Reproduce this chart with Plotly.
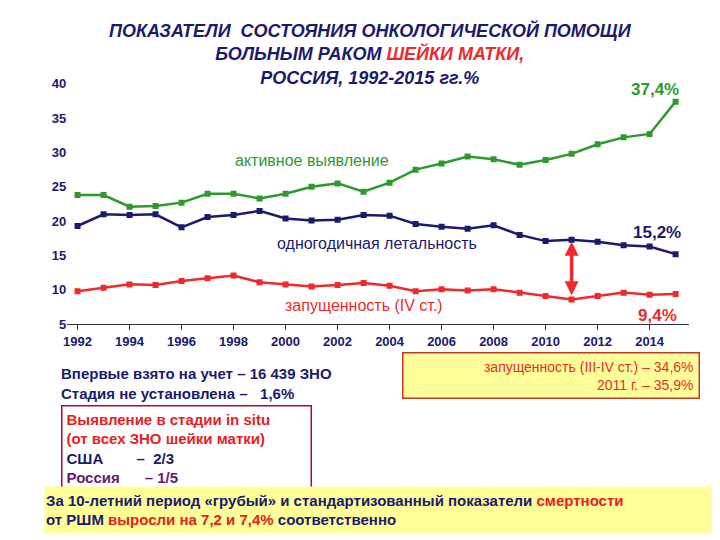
import plotly.graph_objects as go

years = list(range(1992, 2016))
active = [23.8, 23.8, 22.1, 22.2, 22.7, 24.0, 24.0, 23.3, 24.0, 25.0, 25.5, 24.3,
          25.6, 27.5, 28.4, 29.4, 29.0, 28.2, 28.9, 29.8, 31.2, 32.2, 32.7, 37.4]
lethal = [19.3, 21.0, 20.9, 21.0, 19.1, 20.6, 20.9, 21.5, 20.4, 20.1, 20.2, 20.9,
          20.8, 19.6, 19.2, 18.9, 19.4, 18.0, 17.1, 17.3, 17.0, 16.5, 16.3, 15.2]
late = [9.8, 10.3, 10.8, 10.7, 11.3, 11.7, 12.1, 11.1, 10.8, 10.5, 10.7, 11.0,
        10.6, 9.8, 10.1, 9.9, 10.1, 9.6, 9.1, 8.6, 9.1, 9.6, 9.3, 9.4]
tick_years = list(range(1992, 2016, 2))
y_ticks = [5, 10, 15, 20, 25, 30, 35, 40]

NAVY = "#1a1a6e"
GREEN = "#2e9a2e"
RED = "#ee2a2a"
FONT = "Liberation Sans"

fig = go.Figure()
for vals, col in [(active, GREEN), (lethal, NAVY), (late, RED)]:
    fig.add_trace(go.Scatter(x=years, y=vals, mode="lines+markers",
                             line=dict(color=col, width=2.5),
                             marker=dict(symbol="square", size=6, color=col),
                             showlegend=False, hoverinfo="skip"))

fig.update_layout(
    width=720, height=540, margin=dict(l=0, r=0, t=0, b=0),
    paper_bgcolor="white", plot_bgcolor="white",
    font=dict(family=FONT),
    xaxis=dict(domain=[0.077, 0.945], range=[1991.6, 2015.5], tickvals=tick_years,
               showgrid=False, showline=True, linecolor="#333", ticks="outside",
               ticklen=5, tickcolor="#333",
               tickfont=dict(size=13, color=NAVY, weight="bold"), zeroline=False),
    yaxis=dict(domain=[0.411, 0.869], range=[5, 40], tickvals=y_ticks,
               showgrid=False, showline=False, ticks="",
               tickfont=dict(size=13, color=NAVY, weight="bold"), zeroline=False),
)

anns = [
    dict(x=0.5, y=0.995, xref="paper", yref="paper", showarrow=False,
         text="<b><i>ПОКАЗАТЕЛИ  СОСТОЯНИЯ ОНКОЛОГИЧЕСКОЙ ПОМОЩИ<br>БОЛЬНЫМ РАКОМ "
              "<span style='color:#ee2a2a'>ШЕЙКИ МАТКИ,</span><br>РОССИЯ, 1992-2015 гг.%</i></b>",
         font=dict(size=18, color=NAVY), yanchor="top", align="center"),
    dict(x=2001, y=28.8, text="активное выявление", showarrow=False, font=dict(size=16, color=GREEN)),
    dict(x=2003.5, y=16.7, text="одногодичная летальность", showarrow=False, font=dict(size=16, color=NAVY)),
    dict(x=2003, y=7.7, text="запущенность (IV ст.)", showarrow=False, font=dict(size=16, color=RED)),
    dict(x=2014.2, y=39.2, text="<b>37,4%</b>", showarrow=False, font=dict(size=17, color=GREEN)),
    dict(x=2014.3, y=18.3, text="<b>15,2%</b>", showarrow=False, font=dict(size=17, color=NAVY)),
    dict(x=2014.3, y=6.2, text="<b>9,4%</b>", showarrow=False, font=dict(size=17, color=RED)),
    dict(x=2011, y=17.0, ax=2011, ay=9.0, axref="x", ayref="y", text="", showarrow=True,
         arrowhead=2, arrowside="end+start", arrowwidth=3.5, arrowcolor=RED, arrowsize=0.8),
    dict(x=0.065, y=0.337, xref="paper", yref="paper", xanchor="left", yanchor="top", showarrow=False,
         align="left", font=dict(size=15, color=NAVY),
         text="<b>Впервые взято на учет – 16 439 ЗНО<br>Стадия не установлена –   1,6%</b>"),
    dict(x=0.545, y=0.358, xref="paper", yref="paper", xanchor="left", yanchor="top", showarrow=False,
         align="right", font=dict(size=14, color=RED), bgcolor="#ffff99", bordercolor="#c0392b",
         borderwidth=1.5, borderpad=5, width=285,
         text="запущенность (III-IV ст.) – 34,6%<br>2011 г. – 35,9%"),
    dict(x=0.068, y=0.258, xref="paper", yref="paper", xanchor="left", yanchor="top", showarrow=False,
         align="left", font=dict(size=15, color=NAVY), bgcolor="white", bordercolor="#a01030",
         borderwidth=1.5, borderpad=4, width=240, height=86, valign="top",
         text="<b><span style='color:#e82020'>Выявление в стадии in situ<br>(от всех ЗНО шейки матки)</span><br>"
              "США        –  2/3<br><span style='color:#6a1a6a'>Россия      – 1/5</span></b>"),
    dict(x=0.045, y=0.057, xref="paper", yref="paper", xanchor="left", yanchor="middle", showarrow=False,
         align="left", font=dict(size=15, color=NAVY), bgcolor="#ffff99", width=665, height=44,
         text="<b>За 10-летний период «грубый» и стандартизованный показатели "
              "<span style='color:#e82020'>смертности</span><br>от РШМ "
              "<span style='color:#e82020'>выросли на 7,2 и 7,4%</span> соответственно</b>"),
]
fig.update_layout(annotations=anns)
fig.write_html("out.html")
